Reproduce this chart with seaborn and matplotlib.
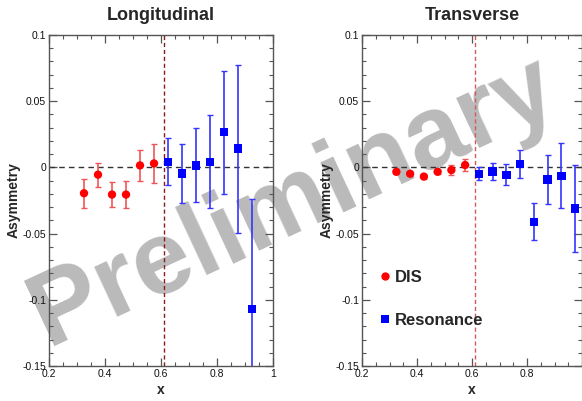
#!/usr/bin/env python3
"""Longitudinal / transverse asymmetry vs x (DIS + resonance), preliminary."""
import numpy as np
import pandas as pd
import matplotlib
matplotlib.use('Agg')
import matplotlib.pyplot as plt
from matplotlib.ticker import MultipleLocator
import seaborn as sns

# ---- data ----
x_dis = [0.325, 0.375, 0.425, 0.475, 0.525, 0.575]
x_res = [0.625, 0.675, 0.725, 0.775, 0.825, 0.875, 0.925]
x_res_t = [0.625, 0.675, 0.725, 0.775, 0.825, 0.875, 0.925, 0.975]

long_dis = [-0.0195, -0.0055, -0.0205, -0.0205, 0.0015, 0.003]
long_dis_err = [0.011, 0.009, 0.0093, 0.0105, 0.012, 0.0145]
long_res = [0.0043, -0.0046, 0.0015, 0.0043, 0.0266, 0.0142, -0.107]
long_res_err = [0.0178, 0.022, 0.028, 0.035, 0.0465, 0.0635, 0.083]

trans_dis = [-0.0033, -0.0048, -0.0069, -0.0033, -0.002, 0.0018]
trans_dis_err = [0.0015, 0.0015, 0.0015, 0.0015, 0.004, 0.0045]
trans_res = [-0.0048, -0.003, -0.0056, 0.0028, -0.041, -0.0091, -0.0063, -0.031]
trans_res_err = [0.005, 0.0066, 0.008, 0.0106, 0.0138, 0.0184, 0.0245, 0.033]

titles = ['Longitudinal', 'Transverse']
cut_x = 0.61

sns.set_style('ticks')
plt.rcParams['font.family'] = ['Liberation Sans', 'DejaVu Sans']

fig = plt.figure(figsize=(5.82, 4.01), dpi=100)
ax_l = fig.add_axes([0.0842, 0.0873, 0.3849, 0.8254])
ax_r = fig.add_axes([0.622, 0.0873, 0.378, 0.8254])

panels = [
    (ax_l, x_dis, long_dis, long_dis_err, x_res, long_res, long_res_err, '#8a1a1a'),
    (ax_r, x_dis, trans_dis, trans_dis_err, x_res_t, trans_res, trans_res_err, '#d45a5a'),
]

for i, (ax, xd, yd, ed, xr, yr, er, vcol) in enumerate(panels):
    ax.set_facecolor('none')
    df = pd.DataFrame({
        'x': list(xd) + list(xr),
        'A': list(yd) + list(yr),
        'set': ['DIS'] * len(xd) + ['Resonance'] * len(xr),
    })
    ax.axhline(0, color='#333333', ls=(0, (4, 3)), lw=1.0, zorder=1)
    ax.axvline(cut_x, color=vcol, ls=(0, (3, 2)), lw=1.0, zorder=1)
    ax.errorbar(xd, yd, yerr=ed, fmt='none', ecolor='#f05555', elinewidth=1.2,
                capsize=2.5, capthick=1.0, zorder=2)
    ax.errorbar(xr, yr, yerr=er, fmt='none', ecolor='#3535ff', elinewidth=1.2,
                capsize=2.5, capthick=1.0, zorder=2)
    sns.scatterplot(data=df, x='x', y='A', hue='set', style='set',
                    palette={'DIS': '#ff0000', 'Resonance': '#0000ff'},
                    markers={'DIS': 'o', 'Resonance': 's'},
                    s=36, edgecolor='none', linewidth=0,
                    ax=ax, zorder=3, legend=(i == 1))

    ax.set_xlim(0.2, 1.0)
    ax.set_ylim(-0.15, 0.1)
    ax.xaxis.set_minor_locator(MultipleLocator(0.05))
    ax.yaxis.set_minor_locator(MultipleLocator(0.01))
    if i == 0:
        ax.set_xticks([0.2, 0.4, 0.6, 0.8, 1.0])
        ax.set_xticklabels(['0.2', '0.4', '0.6', '0.8', '1'])
    else:
        # the last label falls off the right edge of the picture
        ax.set_xticks([0.2, 0.4, 0.6, 0.8])
        ax.set_xticklabels(['0.2', '0.4', '0.6', '0.8'])
    ax.set_yticks([-0.15, -0.1, -0.05, 0, 0.05, 0.1])
    ax.set_yticklabels(['-0.15', '-0.1', '-0.05', '0', '0.05', '0.1'])
    ax.tick_params(which='both', direction='in', top=True, right=True,
                   colors='#555555', labelcolor='#111111', labelsize=7.5, pad=2)
    ax.tick_params(which='major', length=6, width=0.9)
    ax.tick_params(which='minor', length=3, width=0.8)
    for sp in ax.spines.values():
        sp.set_color('#555555')
        sp.set_linewidth(1.0)
    ax.set_xlabel('x', fontsize=10, fontweight='bold', labelpad=3)
    ax.set_ylabel('Asymmetry', fontsize=10, fontweight='bold', labelpad=1)
    ax.set_title(titles[i], fontsize=13, fontweight='bold', pad=11)

# legend in the transverse panel
handles, labels = ax_r.get_legend_handles_labels()
ax_r.legend(handles, labels, loc='lower left', bbox_to_anchor=(-0.01, 0.07),
            frameon=False, prop={'weight': 'bold', 'size': 12},
            labelspacing=1.65, handletextpad=0.0, handlelength=1.2,
            markerscale=1.0)

# watermark
fig.text(0.505, 0.495, 'Preliminary', fontsize=75, fontweight='bold',
         color='#bababa', rotation=25, ha='center', va='center',
         rotation_mode='anchor', zorder=-1)

fig.savefig('out.png', dpi=100)
